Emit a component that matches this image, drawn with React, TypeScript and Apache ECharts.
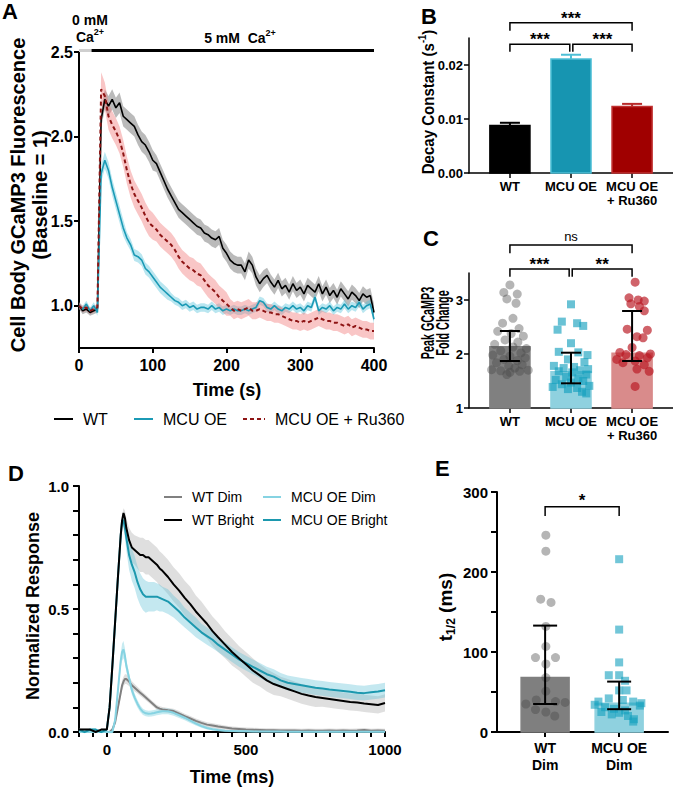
import React, { useEffect, useRef } from 'react';
import * as echarts from 'echarts';

const F = "'Liberation Sans', Arial, Helvetica, sans-serif";

// ---------- Panel A: Ca2+ imaging time course ----------
const timeA = [0,5,10,15,20,25,30,35,40,45,50,55,60,65,70,75,80,85,90,95,100,105,110,115,120,125,130,135,140,145,150,155,160,165,170,175,180,185,190,195,200,205,210,215,220,225,230,235,240,245,250,255,260,265,270,275,280,285,290,295,300,305,310,315,320,325,330,335,340,345,350,355,360,365,370,375,380,385,390,395,400];
const wtA = [1.00,0.97,0.98,0.96,0.97,0.98,2.10,2.22,2.18,2.22,2.17,2.20,2.12,2.10,2.08,2.06,2.01,1.97,1.95,1.91,1.86,1.84,1.79,1.74,1.69,1.65,1.61,1.57,1.55,1.53,1.51,1.49,1.47,1.46,1.43,1.42,1.40,1.39,1.41,1.34,1.31,1.27,1.25,1.24,1.24,1.20,1.27,1.24,1.17,1.13,1.16,1.18,1.14,1.11,1.15,1.10,1.12,1.08,1.13,1.09,1.11,1.07,1.12,1.10,1.08,1.13,1.07,1.11,1.06,1.09,1.05,1.10,1.07,1.04,1.08,1.06,1.03,1.07,1.05,1.06,0.96];
const mcuA = [1.00,0.98,1.01,0.97,1.00,0.96,1.78,1.86,1.80,1.70,1.62,1.54,1.46,1.40,1.36,1.30,1.29,1.27,1.22,1.20,1.17,1.14,1.11,1.09,1.07,1.05,1.03,1.02,1.00,1.01,0.99,1.00,0.98,0.99,0.99,0.98,1.00,0.98,0.99,0.97,0.98,0.97,0.98,0.97,0.97,0.98,0.97,0.98,0.99,1.03,1.02,0.99,0.98,1.00,0.98,0.97,0.99,0.98,1.00,0.98,0.99,0.97,1.00,0.99,1.05,0.97,0.99,0.98,1.00,0.97,0.99,0.98,1.01,0.98,1.00,0.99,1.02,0.98,1.00,1.01,0.92];
const ruA = [1.00,0.98,0.99,0.97,0.98,0.99,2.28,2.24,2.12,2.07,2.03,1.98,1.90,1.80,1.72,1.66,1.62,1.58,1.53,1.49,1.47,1.45,1.42,1.40,1.38,1.36,1.33,1.29,1.26,1.24,1.22,1.21,1.19,1.18,1.15,1.12,1.10,1.08,1.05,1.03,1.01,0.99,0.97,0.98,0.97,0.98,0.99,0.97,0.97,0.98,0.97,0.96,0.96,0.95,0.95,0.94,0.93,0.92,0.91,0.91,0.90,0.91,0.90,0.91,0.92,0.93,0.92,0.91,0.91,0.90,0.90,0.89,0.88,0.89,0.87,0.88,0.87,0.86,0.86,0.85,0.85];
const wtSemA = [0.02,0.02,0.02,0.02,0.02,0.02,0.05,0.06,0.06,0.06,0.06,0.06,0.06,0.06,0.06,0.06,0.06,0.06,0.06,0.06,0.06,0.05,0.05,0.05,0.05,0.05,0.05,0.05,0.05,0.05,0.05,0.05,0.05,0.05,0.05,0.05,0.05,0.05,0.05,0.05,0.05,0.05,0.05,0.05,0.05,0.05,0.05,0.05,0.05,0.05,0.05,0.045,0.045,0.045,0.045,0.045,0.045,0.045,0.045,0.045,0.045,0.045,0.045,0.045,0.045,0.045,0.045,0.045,0.045,0.045,0.045,0.045,0.045,0.045,0.045,0.045,0.045,0.045,0.045,0.045,0.05];
const mcuSemA = [0.02,0.02,0.02,0.02,0.02,0.02,0.05,0.05,0.05,0.05,0.05,0.05,0.05,0.035,0.035,0.035,0.035,0.035,0.035,0.035,0.035,0.035,0.035,0.035,0.035,0.025,0.025,0.025,0.025,0.025,0.025,0.025,0.025,0.025,0.025,0.025,0.025,0.025,0.025,0.025,0.025,0.025,0.025,0.025,0.025,0.025,0.025,0.025,0.025,0.025,0.025,0.025,0.025,0.025,0.025,0.025,0.025,0.025,0.025,0.025,0.025,0.025,0.025,0.025,0.025,0.025,0.025,0.025,0.025,0.025,0.025,0.025,0.025,0.025,0.025,0.025,0.025,0.025,0.025,0.025,0.03];
const ruSemA = [0.02,0.02,0.02,0.02,0.02,0.02,0.10,0.08,0.08,0.08,0.08,0.08,0.08,0.08,0.08,0.08,0.08,0.08,0.08,0.08,0.08,0.07,0.07,0.07,0.07,0.07,0.07,0.07,0.07,0.07,0.07,0.07,0.07,0.07,0.07,0.07,0.07,0.07,0.07,0.07,0.07,0.05,0.05,0.05,0.05,0.05,0.05,0.05,0.05,0.05,0.05,0.05,0.05,0.05,0.05,0.05,0.05,0.05,0.05,0.05,0.05,0.05,0.05,0.05,0.05,0.05,0.05,0.05,0.05,0.05,0.05,0.05,0.05,0.05,0.05,0.05,0.05,0.05,0.05,0.05,0.05];
const seriesNamesA = ['WT', 'MCU OE', 'MCU OE + Ru360'];

// ---------- Panel B: decay constant ----------
const catsBC = ['WT', 'MCU OE', 'MCU OE\n+ Ru360'];
const decayMean = [0.0088, 0.0211, 0.0123];
const decaySem = [0.0005, 0.0008, 0.0005];
const yTicksB = [0, 0.01, 0.02];

// ---------- Panel C: peak fold change ----------
const peakMedian = [2.135, 1.672, 2.013];
const peakQ1 = [1.87, 1.457, 1.87];
const peakQ3 = [2.426, 2.024, 2.796];
const peakWT = [3.28,3.14,3.11,3.02,2.94,2.66,2.57,2.47,2.42,2.38,2.33,2.26,2.22,2.18,2.13,2.10,2.06,2.02,1.98,1.96,1.93,1.90,1.88,1.84,1.80,1.78,1.74,1.71,1.70,1.69,1.68,1.66,1.62];
const peakWTJit = [0,-0.1,0.12,-0.05,0.1,0.05,-0.12,0.15,-0.2,0.02,0.22,-0.08,0.13,-0.25,0.05,0.27,-0.15,0.18,-0.28,0,0.25,-0.1,0.12,-0.22,0.2,-0.02,0.08,-0.3,0.3,-0.15,0.16,0,-0.05];
const peakMCU = [2.92,2.60,2.57,2.52,2.45,2.20,2.04,2.03,1.98,1.90,1.85,1.78,1.76,1.74,1.72,1.70,1.68,1.66,1.62,1.58,1.55,1.52,1.50,1.47,1.44,1.41,1.39,1.37,1.35,1.30,1.27];
const peakMCUJit = [0,-0.15,0.1,0.2,-0.22,0,-0.2,0.12,0.27,-0.05,0.22,-0.28,0.05,-0.12,0.28,0.15,-0.2,0.02,0.25,-0.08,0.12,-0.25,0.2,0,-0.15,0.3,-0.3,0.1,-0.05,0.18,0.25];
const peakRu = [3.33,3.04,3.00,2.98,2.93,2.88,2.80,2.46,2.44,2.32,2.30,2.12,2.03,2.00,1.99,1.97,1.93,1.90,1.87,1.84,1.80,1.72,1.68,1.40];
const peakRuJit = [0.05,-0.05,0.1,0.2,-0.02,0.12,0.2,-0.08,0.25,0.08,0.18,0,-0.2,0.3,-0.1,0.12,0.25,-0.25,0.05,-0.15,0.2,0.08,0.28,0.05];
const yTicksC = [1, 2, 3];

// ---------- Panel D: normalized responses ----------
const timeD = [-100,-80,-60,-40,-20,0,10,20,30,40,50,55,60,65,70,80,90,100,110,120,130,140,150,160,170,180,190,200,220,240,260,280,300,320,340,360,380,400,425,450,475,500,525,550,575,600,625,650,675,700,725,750,775,800,825,850,875,900,925,950,975,1000];
const wtBrightD = [0.01,0.01,0.01,0.00,0.01,0.01,0.10,0.27,0.45,0.63,0.80,0.86,0.89,0.87,0.83,0.78,0.75,0.74,0.73,0.72,0.72,0.71,0.71,0.70,0.69,0.68,0.665,0.655,0.63,0.60,0.575,0.545,0.52,0.49,0.465,0.44,0.41,0.385,0.355,0.325,0.30,0.275,0.25,0.23,0.21,0.195,0.185,0.175,0.165,0.155,0.148,0.142,0.138,0.134,0.13,0.126,0.122,0.12,0.116,0.113,0.11,0.118];
const mcuBrightD = [0.01,0.00,0.01,0.01,0.00,0.01,0.10,0.27,0.45,0.63,0.80,0.86,0.86,0.83,0.79,0.72,0.68,0.65,0.61,0.58,0.56,0.55,0.55,0.55,0.55,0.55,0.545,0.54,0.53,0.51,0.49,0.465,0.445,0.425,0.405,0.39,0.375,0.355,0.335,0.315,0.295,0.28,0.265,0.25,0.235,0.225,0.21,0.20,0.195,0.19,0.185,0.18,0.177,0.173,0.17,0.167,0.164,0.16,0.158,0.162,0.165,0.17];
const wtDimD = [0.005,0.0,0.005,0.0,0.0,0.0,0.0,0.01,0.04,0.10,0.16,0.19,0.205,0.215,0.215,0.205,0.19,0.18,0.17,0.16,0.15,0.14,0.13,0.12,0.11,0.10,0.095,0.092,0.088,0.085,0.075,0.064,0.055,0.045,0.037,0.03,0.026,0.022,0.018,0.014,0.012,0.01,0.009,0.008,0.007,0.007,0.006,0.006,0.006,0.005,0.006,0.005,0.005,0.006,0.005,0.006,0.005,0.006,0.008,0.005,0.006,0.005];
const mcuDimD = [0,0,0,0,0,0,0.0,0.0,0.05,0.17,0.29,0.325,0.335,0.31,0.27,0.22,0.17,0.14,0.115,0.095,0.082,0.076,0.074,0.075,0.077,0.08,0.082,0.084,0.084,0.078,0.068,0.058,0.046,0.034,0.024,0.016,0.011,0.008,0.005,0.004,0.003,0.003,0.002,0.002,0.002,0.002,0.002,0.001,0.001,0.001,0.001,0.001,0.001,0.001,0.001,0.001,0.001,0.001,0.001,0.001,0.001,0.001];
const wtBrightSemD = [0.005,0.005,0.005,0.005,0.005,0.005,0.01,0.015,0.02,0.02,0.02,0.02,0.02,0.03,0.04,0.05,0.06,0.06,0.065,0.07,0.07,0.07,0.07,0.07,0.07,0.07,0.07,0.07,0.07,0.07,0.07,0.07,0.07,0.065,0.065,0.06,0.06,0.06,0.055,0.055,0.05,0.05,0.05,0.045,0.045,0.045,0.04,0.04,0.04,0.04,0.04,0.04,0.035,0.035,0.035,0.035,0.035,0.035,0.035,0.035,0.035,0.035];
const mcuBrightSemD = [0.005,0.005,0.005,0.005,0.005,0.005,0.01,0.015,0.02,0.02,0.02,0.02,0.03,0.04,0.05,0.06,0.065,0.065,0.065,0.065,0.065,0.065,0.06,0.06,0.06,0.055,0.055,0.05,0.05,0.045,0.045,0.04,0.04,0.04,0.035,0.035,0.035,0.03,0.03,0.03,0.03,0.03,0.03,0.03,0.03,0.03,0.03,0.03,0.03,0.03,0.03,0.03,0.03,0.03,0.03,0.03,0.03,0.03,0.03,0.03,0.03,0.03];
const wtDimSemD = [0.003,0.003,0.003,0.003,0.003,0.003,0.005,0.008,0.01,0.015,0.02,0.02,0.02,0.02,0.02,0.018,0.016,0.015,0.014,0.013,0.012,0.011,0.01,0.01,0.01,0.01,0.01,0.01,0.01,0.01,0.01,0.01,0.01,0.01,0.01,0.01,0.01,0.01,0.008,0.008,0.008,0.008,0.008,0.008,0.008,0.008,0.008,0.008,0.008,0.008,0.008,0.008,0.008,0.008,0.008,0.008,0.008,0.008,0.008,0.008,0.008,0.008];
const mcuDimSemD = [0.003,0.003,0.003,0.003,0.003,0.003,0.005,0.005,0.015,0.025,0.03,0.035,0.035,0.03,0.025,0.02,0.018,0.016,0.015,0.014,0.013,0.012,0.012,0.012,0.012,0.012,0.012,0.012,0.012,0.012,0.011,0.01,0.009,0.008,0.007,0.006,0.005,0.005,0.004,0.004,0.004,0.004,0.004,0.004,0.004,0.004,0.004,0.004,0.004,0.004,0.004,0.004,0.004,0.004,0.004,0.004,0.004,0.004,0.004,0.004,0.004,0.004];
const xLabelsD = [0, 500, 1000];
const yLabelsD = [0, 0.5, 1];

// ---------- Panel E: t1/2 ----------
const catsE = ['WT\nDim', 'MCU OE\nDim'];
const t12Median = [68, 36];
const t12Q1 = [35, 28.5];
const t12Q3 = [133, 63];
const t12WT = [246,226,166,162,132,107,93,93,85,68,51,40,38,37,35,28,25,20];
const t12WTJit = [0.01,0.01,-0.06,0.08,0.01,0.01,-0.13,0.14,0.01,0.01,0.01,-0.12,0.14,0.27,-0.26,-0.13,0.01,0.13];
const t12MCU = [216,128,87,71,71,64,52,52,42,40,38,38,36,34,33,31,29,27,25,24,22,20,16,13];
const t12MCUJit = [0,0,0,-0.14,0,0.08,0,0.1,-0.14,0.05,-0.28,0.19,0.3,-0.33,0.28,-0.19,-0.07,0.08,-0.24,0,-0.1,0.12,0.2,0.19];
const yLabelsE = [0, 100, 200, 300];

// ---------- helpers ----------
function axisBase(lw: number, fs: number, margin: number, tickLen: number) {
  return {
    axisLine: { show: true, onZero: false, lineStyle: { color: '#000', width: lw } },
    axisTick: { show: true, inside: false, length: tickLen, lineStyle: { color: '#000', width: lw } },
    axisLabel: { color: '#000', fontSize: fs, fontWeight: 'bold', fontFamily: F, margin },
    splitLine: { show: false },
  };
}

function bandSeries(ai: number, times: number[], vals: number[], sem: number[], color: string, z: number) {
  return {
    type: 'custom', xAxisIndex: ai, yAxisIndex: ai, silent: true, z,
    data: [[times[0], vals[0]]],
    renderItem: (params: any, api: any) => {
      const up = times.map((t, i) => api.coord([t, vals[i] + sem[i]]));
      const lo = times.map((t, i) => api.coord([t, vals[i] - sem[i]])).reverse();
      return { type: 'polygon', shape: { points: up.concat(lo) }, style: { fill: color } };
    },
  };
}

function lineSeries(name: string, ai: number, times: number[], vals: number[], color: string, width: number, type: any, z: number) {
  return {
    name, type: 'line', xAxisIndex: ai, yAxisIndex: ai, silent: true, z,
    data: times.map((t, i) => [t, vals[i]]),
    symbol: 'none', showSymbol: false, smooth: false,
    lineStyle: { color, width, type },
    itemStyle: { color },
  };
}

function barSeries(ai: number, vals: number[], base: number, half: number, fills: string[], strokes: string[]) {
  return {
    type: 'custom', xAxisIndex: ai, yAxisIndex: ai, silent: true, z: 2,
    data: vals.map((v, i) => [i, v]),
    renderItem: (params: any, api: any) => {
      const i = params.dataIndex;
      const x = api.value(0), v = api.value(1);
      const a = api.coord([x - half, v]);
      const b = api.coord([x + half, base]);
      return {
        type: 'rect',
        shape: { x: a[0], y: a[1], width: b[0] - a[0], height: b[1] - a[1] },
        style: { fill: fills[i], stroke: strokes[i], lineWidth: 1.5 },
      };
    },
  };
}

function errSeries(ai: number, lo: number[], hi: number[], colors: string[], cap: number, lw: number, upperOnly: boolean) {
  return {
    type: 'custom', xAxisIndex: ai, yAxisIndex: ai, silent: true, z: 8,
    data: lo.map((l, i) => [i, l, hi[i]]),
    renderItem: (params: any, api: any) => {
      const c = colors[params.dataIndex];
      const x = api.value(0);
      const pL = api.coord([x, api.value(1)]);
      const pH = api.coord([x, api.value(2)]);
      const st = { stroke: c, lineWidth: lw };
      const children: any[] = [
        { type: 'line', shape: { x1: pL[0], y1: pL[1], x2: pH[0], y2: pH[1] }, style: st },
        { type: 'line', shape: { x1: pH[0] - cap, y1: pH[1], x2: pH[0] + cap, y2: pH[1] }, style: st },
      ];
      if (!upperOnly) children.push({ type: 'line', shape: { x1: pL[0] - cap, y1: pL[1], x2: pL[0] + cap, y2: pL[1] }, style: st });
      return { type: 'group', children };
    },
  };
}

function scatterSeries(ai: number, center: number, vals: number[], jit: number[], symbol: string, size: number, color: string) {
  return {
    type: 'scatter', xAxisIndex: ai, yAxisIndex: ai, silent: true, z: 5,
    data: vals.map((v, i) => [center + jit[i], v]),
    symbol, symbolSize: size,
    itemStyle: { color },
  };
}

function bracketSeries(ai: number, items: any[]) {
  return {
    type: 'custom', xAxisIndex: ai, yAxisIndex: ai, silent: true, z: 10,
    data: items.map((b, i) => [b.x1, b.y, i]),
    renderItem: (params: any, api: any) => {
      const b = items[params.dataIndex];
      const p1 = api.coord([b.x1, b.leg]);
      const p2 = api.coord([b.x1, b.y]);
      const p3 = api.coord([b.x2, b.y]);
      const p4 = api.coord([b.x2, b.leg]);
      return {
        type: 'group',
        children: [
          { type: 'polyline', shape: { points: [p1, p2, p3, p4] }, style: { stroke: '#000', fill: 'none', lineWidth: 1.5 } },
          {
            type: 'text', x: (p2[0] + p3[0]) / 2, y: p2[1] + b.dy,
            style: { text: b.text, font: b.font, fill: '#000', align: 'center', verticalAlign: 'middle', textAlign: 'center', textVerticalAlign: 'middle' },
          },
        ],
      };
    },
  };
}

function gText(x: number, y: number, text: string, font: string, extra: any = {}) {
  return {
    type: 'text', x, y, z: 100, silent: true,
    rotation: extra.rotation || 0, scaleX: extra.scaleX || 1,
    style: {
      text, font, fill: '#000',
      align: extra.align || 'center', textAlign: extra.align || 'center',
      verticalAlign: 'middle', textVerticalAlign: 'middle',
      lineHeight: extra.lineHeight, rich: extra.rich,
    },
  };
}

function buildOption() {
  const star = `bold 17px ${F}`;
  const richSup = (size: number, supSize: number) => ({
    n: { fontSize: size, fontWeight: 'bold', fontFamily: F, fill: '#000', lineHeight: size + 6 },
    s: { fontSize: supSize, fontWeight: 'bold', fontFamily: F, fill: '#000', verticalAlign: 'top' },
  });
  const legendCommon = (fs: number) => ({
    padding: 0, selectedMode: false, itemHeight: 14,
    itemStyle: { opacity: 0, borderWidth: 0 },
    textStyle: { color: '#000', fontSize: fs, fontFamily: F, padding: [0, 0, 0, 5] },
  });

  return {
    animation: false,
    backgroundColor: '#fff',
    textStyle: { fontFamily: F },
    grid: [
      { left: 79, top: 52, width: 295, height: 296, containLabel: false, outerBoundsMode: 'none' },
      { left: 469, top: 38, width: 204, height: 135, containLabel: false, outerBoundsMode: 'none' },
      { left: 469, top: 273, width: 204, height: 135, containLabel: false, outerBoundsMode: 'none' },
      { left: 79, top: 486, width: 306, height: 246, containLabel: false, outerBoundsMode: 'none' },
      { left: 497, top: 492, width: 171, height: 240, containLabel: false, outerBoundsMode: 'none' },
    ],
    xAxis: [
      (() => { const b = axisBase(2, 16, 9, 5); return { ...b, gridIndex: 0, type: 'value', min: 0, max: 400, interval: 100,
        axisLabel: { ...b.axisLabel, formatter: (v: number) => String(v) } }; })(),
      (() => { const b = axisBase(1.5, 13, 6, 5); return { ...b, gridIndex: 1, type: 'value', min: -0.67, max: 2.67,
        axisTick: { ...b.axisTick, customValues: [0, 1, 2] },
        axisLabel: { ...b.axisLabel, customValues: [0, 1, 2], lineHeight: 14, formatter: (v: number) => catsBC[Math.round(v)] } }; })(),
      (() => { const b = axisBase(1.5, 13, 6, 5); return { ...b, gridIndex: 2, type: 'value', min: -0.67, max: 2.67,
        axisTick: { ...b.axisTick, customValues: [0, 1, 2] },
        axisLabel: { ...b.axisLabel, customValues: [0, 1, 2], lineHeight: 14, formatter: (v: number) => catsBC[Math.round(v)] } }; })(),
      (() => { const b = axisBase(2, 15, 10, 5); return { ...b, gridIndex: 3, type: 'value', min: -100, max: 1000, interval: 50,
        axisLabel: { ...b.axisLabel, customValues: xLabelsD, formatter: (v: number) => String(v) } }; })(),
      (() => { const b = axisBase(2, 14, 7, 5); return { ...b, gridIndex: 4, type: 'value', min: -0.65, max: 1.66,
        axisTick: { ...b.axisTick, customValues: [0, 1] },
        axisLabel: { ...b.axisLabel, customValues: [0, 1], lineHeight: 17, formatter: (v: number) => catsE[Math.round(v)] } }; })(),
    ],
    yAxis: [
      (() => { const b = axisBase(2, 16, 6, 5); return { ...b, gridIndex: 0, type: 'value', min: 0.75, max: 2.5,
        axisTick: { ...b.axisTick, customValues: [1, 1.5, 2, 2.5] },
        axisLabel: { ...b.axisLabel, customValues: [1, 1.5, 2, 2.5], formatter: (v: number) => v.toFixed(1) } }; })(),
      (() => { const b = axisBase(1.5, 13, 6, 5); return { ...b, gridIndex: 1, type: 'value', min: 0, max: 0.025,
        axisTick: { ...b.axisTick, customValues: yTicksB },
        axisLabel: { ...b.axisLabel, customValues: yTicksB, formatter: (v: number) => v.toFixed(2) } }; })(),
      (() => { const b = axisBase(1.5, 13, 6, 5); return { ...b, gridIndex: 2, type: 'value', min: 1, max: 3.5,
        axisTick: { ...b.axisTick, customValues: yTicksC },
        axisLabel: { ...b.axisLabel, customValues: yTicksC, formatter: (v: number) => String(v) } }; })(),
      (() => { const b = axisBase(2, 15, 10, 6); return { ...b, gridIndex: 3, type: 'value', min: 0, max: 1, interval: 0.1,
        axisLabel: { ...b.axisLabel, customValues: yLabelsD, formatter: (v: number) => v.toFixed(1) } }; })(),
      (() => { const b = axisBase(2, 15, 9, 6); return { ...b, gridIndex: 4, type: 'value', min: 0, max: 300, interval: 50,
        axisLabel: { ...b.axisLabel, customValues: yLabelsE, formatter: (v: number) => String(v) } }; })(),
    ],
    legend: [
      { ...legendCommon(16), data: [seriesNamesA[0]], left: 53, top: 411, itemWidth: 19 },
      { ...legendCommon(16), data: [seriesNamesA[1]], left: 133, top: 411, itemWidth: 19 },
      { ...legendCommon(16), data: [seriesNamesA[2]], left: 242, top: 411, itemWidth: 22 },
      { ...legendCommon(14), data: ['WT Dim', 'WT Bright'], left: 163, top: 490, orient: 'vertical', itemGap: 9, itemWidth: 18 },
      { ...legendCommon(14), data: ['MCU OE Dim', 'MCU OE Bright'], left: 262, top: 490, orient: 'vertical', itemGap: 9, itemWidth: 18 },
    ],
    series: [
      // Panel A
      bandSeries(0, timeA, wtA, wtSemA, 'rgba(90,90,90,0.42)', 1),
      bandSeries(0, timeA, mcuA, mcuSemA, 'rgba(70,190,215,0.38)', 1),
      bandSeries(0, timeA, ruA, ruSemA, 'rgba(240,120,120,0.42)', 1),
      lineSeries(seriesNamesA[0], 0, timeA, wtA, '#000000', 1.6, 'solid', 3),
      lineSeries(seriesNamesA[1], 0, timeA, mcuA, '#1b9ab5', 1.6, 'solid', 3),
      lineSeries(seriesNamesA[2], 0, timeA, ruA, '#8e1414', 2, [4, 3], 4),
      {
        type: 'custom', xAxisIndex: 0, yAxisIndex: 0, silent: true, z: 6,
        data: [[0, 17, 0], [17, 400, 1]],
        renderItem: (params: any, api: any) => {
          const a = api.coord([api.value(0), 2.509]);
          const b = api.coord([api.value(1), 2.509]);
          return { type: 'line', shape: { x1: a[0], y1: a[1], x2: b[0], y2: b[1] },
            style: { stroke: params.dataIndex === 0 ? '#cfcfcf' : '#000', lineWidth: 3 } };
        },
      },
      // Panel B
      barSeries(1, decayMean, 0, 0.328, ['#000000', '#1795b1', '#a00000'], ['#000000', '#4dbfd6', '#c03030']),
      errSeries(1, decayMean, decayMean.map((m, i) => m + decaySem[i]), ['#000000', '#4dbfd6', '#b82a2a'], 10, 2, true),
      bracketSeries(1, [
        { x1: 0, x2: 2, y: 0.02783, leg: 0.02635, text: '***', font: star, dy: -4 },
        { x1: 0, x2: 0.98, y: 0.02383, leg: 0.02246, text: '***', font: star, dy: -5 },
        { x1: 1.03, x2: 2, y: 0.02383, leg: 0.02246, text: '***', font: star, dy: -5 },
      ]),
      // Panel C
      barSeries(2, peakMedian, 1, 0.328, ['#808080', '#8fd1df', '#d98b8b'], ['#808080', '#8fd1df', '#d98b8b']),
      scatterSeries(2, 0, peakWT, peakWTJit, 'circle', 9, 'rgba(70,70,70,0.5)'),
      scatterSeries(2, 1, peakMCU, peakMCUJit, 'rect', 8, 'rgba(20,160,190,0.8)'),
      scatterSeries(2, 2, peakRu, peakRuJit, 'circle', 9, 'rgba(185,25,35,0.85)'),
      errSeries(2, peakQ1, peakQ3, ['#000', '#000', '#000'], 10, 2, false),
      bracketSeries(2, [
        { x1: 0, x2: 2, y: 4.0185, leg: 3.865, text: 'ns', font: `13px ${F}`, dy: -9 },
        { x1: 0, x2: 0.97, y: 3.574, leg: 3.431, text: '***', font: star, dy: -5 },
        { x1: 1.02, x2: 2, y: 3.574, leg: 3.431, text: '**', font: star, dy: -5 },
      ]),
      // Panel D
      bandSeries(3, timeD, wtBrightD, wtBrightSemD, 'rgba(170,170,170,0.38)', 1),
      bandSeries(3, timeD, mcuBrightD, mcuBrightSemD, 'rgba(100,195,215,0.38)', 1),
      bandSeries(3, timeD, wtDimD, wtDimSemD, 'rgba(150,150,150,0.3)', 1),
      bandSeries(3, timeD, mcuDimD, mcuDimSemD, 'rgba(130,210,225,0.45)', 1),
      lineSeries('WT Dim', 3, timeD, wtDimD, '#808080', 2, 'solid', 3),
      lineSeries('MCU OE Dim', 3, timeD, mcuDimD, '#86d3e2', 2, 'solid', 3),
      lineSeries('MCU OE Bright', 3, timeD, mcuBrightD, '#1c98ae', 2, 'solid', 3),
      lineSeries('WT Bright', 3, timeD, wtBrightD, '#000000', 2, 'solid', 4),
      // Panel E
      barSeries(4, t12Median, 0, 0.324, ['#7f7f7f', '#8fd1df'], ['#7f7f7f', '#8fd1df']),
      scatterSeries(4, 0, t12WT, t12WTJit, 'circle', 9, 'rgba(70,70,70,0.5)'),
      scatterSeries(4, 1, t12MCU, t12MCUJit, 'rect', 8, 'rgba(20,160,190,0.75)'),
      errSeries(4, t12Q1, t12Q3, ['#000', '#000'], 12, 2, false),
      bracketSeries(4, [
        { x1: 0, x2: 1, y: 281.6, leg: 270, text: '*', font: star, dy: -6 },
      ]),
    ],
    graphic: [
      gText(2, 11, 'A', `bold 22px ${F}`, { align: 'left' }),
      gText(421, 16, 'B', `bold 22px ${F}`, { align: 'left' }),
      gText(423, 238, 'C', `bold 22px ${F}`, { align: 'left' }),
      gText(8, 473, 'D', `bold 22px ${F}`, { align: 'left' }),
      gText(435, 468, 'E', `bold 22px ${F}`, { align: 'left' }),
      // Panel A texts
      gText(29, 195, 'Cell Body GCaMP3 Fluorescence\n(Baseline = 1)', `bold 20px ${F}`, { rotation: Math.PI / 2, lineHeight: 22 }),
      gText(227, 390, 'Time (s)', `bold 18px ${F}`),
      gText(90, 20, '0 mM', `bold 14px ${F}`),
      gText(90, 37, '{n|Ca}{s|2+}', `bold 14px ${F}`, { rich: richSup(14, 9) }),
      gText(240, 38, '{n|5 mM  Ca}{s|2+}', `bold 14px ${F}`, { rich: richSup(14, 9) }),
      // Panel B
      gText(428, 102, '{n|Decay Constant (s}{s|-1}{n|)}', `bold 16px ${F}`, { rotation: Math.PI / 2, scaleX: 0.94, rich: richSup(16, 10) }),
      // Panel C
      gText(435.5, 323, 'Peak GCaMP3\nFold Change', `bold 18px ${F}`, { rotation: Math.PI / 2, scaleX: 0.6, lineHeight: 15 }),
      // Panel D
      gText(33, 606, 'Normalized Response', `bold 18px ${F}`, { rotation: Math.PI / 2 }),
      gText(232, 777, 'Time (ms)', `bold 18px ${F}`),
      // Panel E
      gText(445, 607, '{n|t}{b|1/2}{n| (ms)}', `bold 19px ${F}`, {
        rotation: Math.PI / 2,
        rich: {
          n: { fontSize: 19, fontWeight: 'bold', fontFamily: F, fill: '#000', lineHeight: 24 },
          b: { fontSize: 12, fontWeight: 'bold', fontFamily: F, fill: '#000', verticalAlign: 'bottom' },
        },
      }),
    ],
  };
}

export default function App() {
  const ref = useRef<HTMLDivElement>(null);
  useEffect(() => {
    const chart = echarts.init(ref.current as HTMLDivElement, undefined, { renderer: 'svg' });
    chart.setOption(buildOption() as any);
    return () => chart.dispose();
  }, []);
  return (
    <div
      ref={ref}
      style={{ position: 'absolute', left: 0, top: 0, width: 673, height: 788, background: '#fff' }}
    />
  );
}
